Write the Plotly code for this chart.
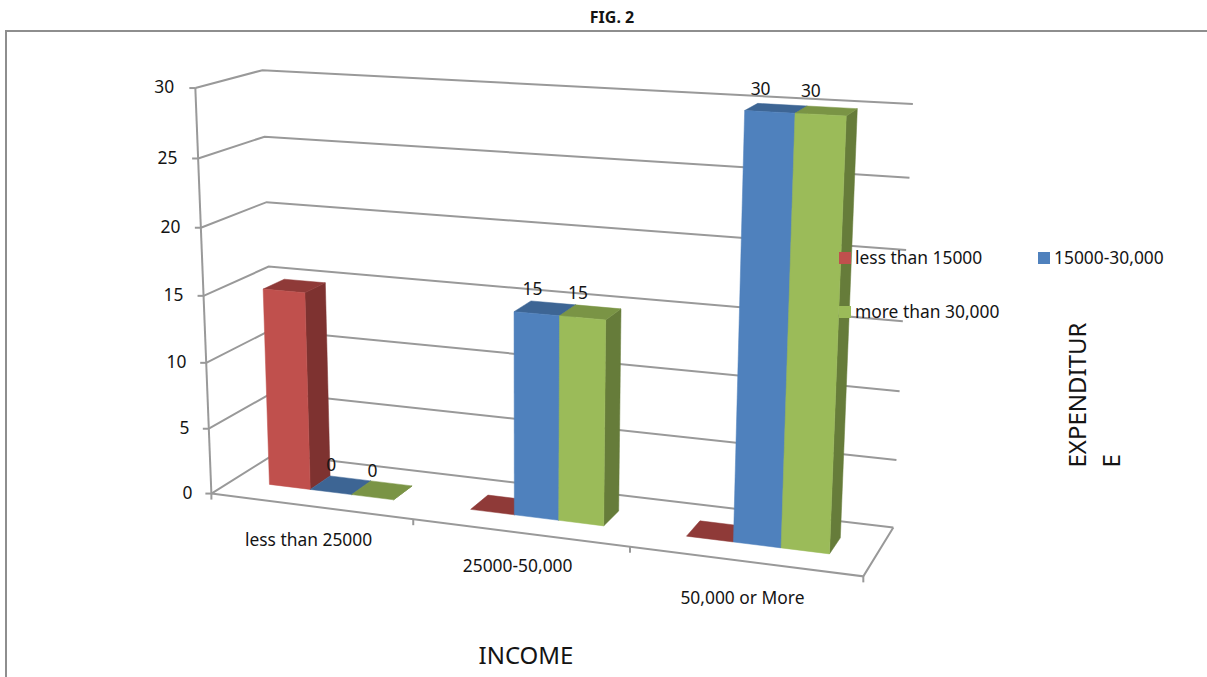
import plotly.graph_objects as go
import numpy as np

# Chart data
CATEGORIES = ["less than 25000", "25000-50,000", "50,000 or More"]
SERIES_NAMES = ["less than 15000", "15000-30,000", "more than 30,000"]
LOW_SPENDING = [15, 0, 0]
MID_SPENDING = [0, 15, 30]
HIGH_SPENDING = [0, 15, 30]
Y_TICKS = [0, 5, 10, 15, 20, 25, 30]

WIDTH, HEIGHT = 1207, 677
AXIS_MAX = 30

# Perspective camera: maps (category, depth, value / AXIS_MAX, 1) onto the page.
CAMERA = np.array([
    [187.679223, 79.213769, -25.512754, 211.384239],
    [7.817526, -12.919026, -409.783862, 493.56881],
    [-0.034319, 0.058539, -0.048419, 1.0],
])

# Column layout inside a category slot and along the depth axis.
GAP_SIDE = 0.1875
BAR_WIDTH = 0.2083
DEPTH_FRONT = 1 / 3
DEPTH_BACK = 2 / 3

# series shades: (front, side, top)
SHADES = [
    ("#C0504D", "#7E3230", "#8F3A38"),
    ("#4F81BD", "#3A608D", "#3D6594"),
    ("#9BBB59", "#667C3A", "#7A9445"),
]
GRID = "#999999"
FRAME = "#8E8E8E"
INK = "#141414"
FONT = "Noto Sans"
LABEL_SIZE = 17.4
TEXT_DROP = 2  # optical centring of scatter text on its anchor
CATEGORY_LABEL_DROP = [33, 33, 36]


def project(u, v, value):
    h = CAMERA @ np.array([u, v, value / AXIS_MAX, 1.0])
    return float(h[0] / h[2]), float(h[1] / h[2])


def path(points):
    pts = [project(*p) for p in points]
    return [p[0] for p in pts], [p[1] for p in pts]


fig = go.Figure()


def add_line(xs, ys, color=GRID, width=2):
    fig.add_trace(go.Scatter(x=xs, y=ys, mode="lines", hoverinfo="skip",
                             line=dict(color=color, width=width)))


def add_face(points, color):
    xs, ys = path(points)
    fig.add_trace(go.Scatter(x=xs + xs[:1], y=ys + ys[:1], mode="lines", fill="toself",
                             fillcolor=color, line=dict(color=color, width=0.5),
                             hoverinfo="skip"))


def add_text(x, y, text, size=LABEL_SIZE, anchor="middle center", bold=False):
    fig.add_trace(go.Scatter(x=[x], y=[y + TEXT_DROP], mode="text", text=[text],
                             textposition=anchor,
                             textfont=dict(family=FONT, size=size, color=INK,
                                           weight="bold" if bold else "normal"),
                             hoverinfo="skip"))


# Outer border of the figure panel
add_line([6, 6, WIDTH], [HEIGHT, 31, 31], FRAME, 2)

# Side wall and back wall gridlines
n_cat = len(CATEGORIES)
for tick in Y_TICKS:
    add_line(*path([(0, 0, tick), (0, 1, tick), (n_cat, 1, tick)]))

# Floor outline, value axis and its ticks
add_line(*path([(0, 0, 0), (n_cat, 0, 0), (n_cat, 1, 0)]))
add_line(*path([(0, 0, 0), (0, 0, AXIS_MAX)]))
for tick in Y_TICKS:
    x, y = project(0, 0, tick)
    add_line([x - 6, x], [y, y])
    add_text(x - 19 - tick * 0.07, y - 1, str(tick), anchor="middle left")
for i in range(n_cat + 1):
    x, y = project(i, 0, 0)
    add_line([x, x], [y, y + 6])

# Columns, painted left to right
for c in range(n_cat):
    for s, values in enumerate([LOW_SPENDING, MID_SPENDING, HIGH_SPENDING]):
        value = values[c]
        u0 = c + GAP_SIDE + s * BAR_WIDTH
        u1 = u0 + BAR_WIDTH
        front, side, top = SHADES[s]
        v0, v1 = DEPTH_FRONT, DEPTH_BACK
        add_face([(u1, v0, 0), (u1, v1, 0), (u1, v1, value), (u1, v0, value)], side)
        add_face([(u0, v0, value), (u1, v0, value), (u1, v1, value), (u0, v1, value)], top)
        if value > 0:
            add_face([(u0, v0, 0), (u1, v0, 0), (u1, v0, value), (u0, v0, value)], front)

# Value labels on the second and third series
for s, values in [(1, MID_SPENDING), (2, HIGH_SPENDING)]:
    for c, value in enumerate(values):
        u = c + GAP_SIDE + (s + 0.5) * BAR_WIDTH
        x, y = project(u, 0.5, value)
        add_text(x - 9.5 - 0.2 * value, y - 20, str(value))

# Category labels under the front edge
for c, label in enumerate(CATEGORIES):
    x, y = project(c + 0.5, 0, 0)
    add_text(x - 2, y + CATEGORY_LABEL_DROP[c], label)

# Legend
LEGEND_SLOTS = [(845, 258), (1044, 258), (845, 312)]
for s, (name, (x, y)) in enumerate(zip(SERIES_NAMES, LEGEND_SLOTS)):
    fig.add_trace(go.Scatter(x=[x], y=[y], mode="markers", hoverinfo="skip",
                             marker=dict(symbol="square", size=12, color=SHADES[s][0])))
    add_text(x + 10, y, name, anchor="middle right")

# Titles
add_text(612, 17, "FIG. 2", size=16, bold=True)
add_text(526, 656, "INCOME", size=24)
for x_pos, word in [(1076, "EXPENDITUR"), (1110, "E")]:
    fig.add_annotation(x=x_pos, y=470, text=word, textangle=-90, showarrow=False,
                       xanchor="center", yanchor="bottom",
                       font=dict(family=FONT, size=24, color=INK))

fig.update_layout(
    width=WIDTH, height=HEIGHT, margin=dict(l=0, r=0, t=0, b=0),
    paper_bgcolor="white", plot_bgcolor="white", showlegend=False,
    xaxis=dict(range=[0, WIDTH], visible=False, fixedrange=True),
    yaxis=dict(range=[HEIGHT, 0], visible=False, fixedrange=True),
)
fig.write_html("out.html", config=dict(displayModeBar=False))
